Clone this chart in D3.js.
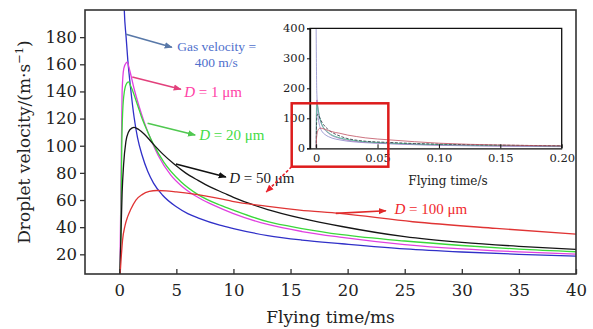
<!DOCTYPE html>
<html><head><meta charset="utf-8">
<script src="https://cdn.jsdelivr.net/npm/d3@7"></script>
<style>body{margin:0;background:#fff}</style>
</head><body>
<svg id="c" width="593" height="329"></svg>
<script>
// ---------- data (main chart, time in ms, velocity in m/s) ----------
const xTicks = [0, 5, 10, 15, 20, 25, 30, 35, 40];
const yTicks = [20, 40, 60, 80, 100, 120, 140, 160, 180];
const insetXTicks = [0, 0.05, 0.10, 0.15, 0.20];
const insetYTicks = [0, 100, 200, 300, 400];

const gasT = [0, 0.2, 0.44, 0.6, 0.75, 1.0, 1.3, 1.6, 2.0, 2.5, 3.0, 3.8, 5.0, 6.0, 7.0, 8.8, 10, 13, 16, 19.5, 25, 30, 35, 40];
const gasV = [400, 300, 200, 180, 163, 142, 121, 106, 93, 81, 72.5, 63.5, 55, 50, 46.5, 41.5, 39, 33.8, 30.5, 27.8, 24, 21.7, 20, 18.7];

const d1T = [0.05, 0.15, 0.25, 0.4, 0.6, 0.7, 0.9, 1.3, 1.7, 2.2, 2.8, 3.4, 4.5, 5.5, 6.3, 7.0, 8.3, 10, 13, 16, 19.5, 25, 30, 35, 40];
const d1V = [2, 70, 140, 157, 161, 161.5, 156, 142, 130, 117, 104, 93, 78.5, 70, 65, 61.5, 56, 50, 42, 36.8, 32.5, 27.2, 24, 21.8, 20.2];

const d20T = [0.05, 0.15, 0.22, 0.3, 0.45, 0.65, 0.8, 1.0, 1.6, 2.0, 2.5, 3.0, 3.9, 5.4, 6.9, 8.9, 10, 13, 16, 19.5, 25, 30, 35, 40];
const d20V = [2, 40, 100, 125, 140, 146, 147, 144, 130, 120, 110, 101, 88, 73.5, 64, 56, 52.5, 44, 39, 34.5, 29.8, 26.5, 23.8, 21.9];

const d50T = [0.05, 0.15, 0.25, 0.38, 0.58, 0.8, 1.1, 1.3, 1.7, 2.2, 3.0, 3.8, 4.8, 5.8, 6.9, 8.0, 9.2, 10, 13, 16, 19.5, 25, 30, 35, 40];
const d50V = [2, 35, 65, 86, 103, 110, 113, 113.5, 112, 108.5, 101, 94, 86.5, 80, 74.5, 69.5, 65, 62, 53, 46.5, 40.5, 33, 28.8, 25.9, 23.7];

const d100T = [0.05, 0.15, 0.29, 0.5, 0.73, 1.0, 1.46, 2.0, 2.63, 3.3, 4.1, 5.0, 6.4, 7.5, 8.8, 9.9, 12.85, 15.8, 19.3, 25.7, 33, 40];
const d100V = [2, 15, 30.5, 41, 47.6, 53, 60, 64, 66.3, 67, 66.8, 66, 64.5, 63, 61, 59, 55.5, 52.6, 50.1, 44, 39.1, 34.9];

// inset tails beyond 40 ms (time in s)
const tailT = [0.06, 0.08, 0.10, 0.15, 0.20];
const gasTail = [15, 12, 10, 7, 5.5];
const d1Tail = [16, 13, 11, 8, 6.5];
const d20Tail = [17.5, 14.5, 12.5, 9.5, 7.5];
const d50Tail = [19.5, 16, 14, 10.5, 8.5];
const d100Tail = [28, 22, 17, 11, 8];

const series = [
  {name: "gas", t: gasT, v: gasV, tail: gasTail, color: "#3030c8"},
  {name: "D1", t: d1T, v: d1V, tail: d1Tail, color: "#e040e0"},
  {name: "D20", t: d20T, v: d20V, tail: d20Tail, color: "#3ad83a"},
  {name: "D50", t: d50T, v: d50V, tail: d50Tail, color: "#151515"},
  {name: "D100", t: d100T, v: d100V, tail: d100Tail, color: "#e03434"}
];

// annotations: arrow start (t,v), arrow end (t,v), label anchor (t,v)
const annotations = [
  {from: [0.59, 182.1], to: [4.61, 172.5], lines: ["Gas velocity =", "400 m/s"], at: [5.08, 169.8], at2: [8.5, 158.0], color: "#4f6fcc", arrow: "#5878a8"},
  {from: [1.14, 150.6], to: [5.4, 141.6], label: "1 μm", at: [5.69, 135.9], color: "#ff3fa6", arrow: "#e2407c"},
  {from: [2.48, 116.5], to: [6.65, 107.9], label: "20 μm", at: [7.0, 104.2], color: "#44dc44", arrow: "#50c850"},
  {from: [4.96, 86.5], to: [9.34, 77.0], label: "50 μm", at: [9.63, 72.5], color: "#1a1a1a", arrow: "#111"},
  {from: [18.97, 50.2], to: [23.35, 52.1], label: "100 μm", at: [24.1, 49.7], color: "#f0282d", arrow: "#e02a2a"}
];

// ---------- drawing ----------
const svg = d3.select("#c");
const L = 85, R = 576, T = 10, B = 274;
const x = d3.scaleLinear([-3, 40], [L, R]);
const y = d3.scaleLinear([5.5, 200], [B, T]);
const serif = "'DejaVu Serif', serif";
const tserif = "'Liberation Serif', 'Times New Roman', serif";

const defs = svg.append("defs");
defs.append("clipPath").attr("id", "mainclip").append("rect")
  .attr("x", L).attr("y", T).attr("width", R - L).attr("height", B - T);

function marker(id, color, size) {
  defs.append("marker").attr("id", id).attr("viewBox", "0 0 10 10")
    .attr("refX", 9).attr("refY", 5).attr("markerUnits", "userSpaceOnUse")
    .attr("markerWidth", size).attr("markerHeight", size).attr("orient", "auto")
    .append("path").attr("d", "M0,1 L10,5 L0,9 Z").attr("fill", color);
}

const line = d3.line().x(d => x(d[0])).y(d => y(d[1])).curve(d3.curveMonotoneX);
const g = svg.append("g").attr("clip-path", "url(#mainclip)");
series.forEach(s => {
  g.append("path").datum(s.t.map((t, i) => [t, s.v[i]]))
    .attr("d", line).attr("fill", "none").attr("stroke", s.color).attr("stroke-width", 1.3);
});

// frame
svg.append("rect").attr("x", L).attr("y", T).attr("width", R - L).attr("height", B - T)
  .attr("fill", "none").attr("stroke", "#333").attr("stroke-width", 1.6);

// axes
const ya = svg.append("g").attr("transform", `translate(${L},0)`)
  .call(d3.axisLeft(y).tickValues(yTicks).tickSize(5).tickPadding(3).tickFormat(d3.format("d")));
ya.select(".domain").remove();
ya.selectAll("line").attr("stroke", "#333").attr("stroke-width", 1.3);
ya.selectAll("text").attr("font-family", serif).attr("font-size", 16.5).attr("fill", "#222");

const xa = svg.append("g").attr("transform", `translate(0,${B})`)
  .call(d3.axisBottom(x).tickValues(xTicks).tickSizeInner(-5).tickSizeOuter(0).tickPadding(10).tickFormat(d3.format("d")));
xa.select(".domain").remove();
xa.selectAll("line").attr("stroke", "#333").attr("stroke-width", 1.3);
xa.selectAll("text").attr("font-family", serif).attr("font-size", 16.5).attr("fill", "#222");

svg.append("text").attr("x", (L + R) / 2).attr("y", 323).attr("text-anchor", "middle")
  .attr("font-family", serif).attr("font-size", 17).attr("fill", "#222").text("Flying time/ms");

const yt = svg.append("text").attr("transform", `translate(30,${(T + B) / 2}) rotate(-90)`)
  .attr("text-anchor", "middle").attr("font-family", serif).attr("font-size", 17).attr("fill", "#222");
yt.append("tspan").text("Droplet velocity/(m·s");
yt.append("tspan").attr("dy", -7).attr("font-size", 11.5).text("−1");
yt.append("tspan").attr("dy", 7).text(")");

// annotations
annotations.forEach((a, i) => {
  marker("arr" + i, a.arrow, 8);
  svg.append("line").attr("x1", x(a.from[0])).attr("y1", y(a.from[1]))
    .attr("x2", x(a.to[0])).attr("y2", y(a.to[1]))
    .attr("stroke", a.arrow).attr("stroke-width", 1.6).attr("marker-end", `url(#arr${i})`);
  if (a.lines) {
    svg.append("text").attr("x", x(a.at[0])).attr("y", y(a.at[1]))
      .attr("font-family", tserif).attr("font-size", 13.5).attr("fill", a.color).text(a.lines[0]);
    svg.append("text").attr("x", x(a.at2[0])).attr("y", y(a.at2[1])).attr("text-anchor", "middle")
      .attr("font-family", tserif).attr("font-size", 13.5).attr("fill", a.color).text(a.lines[1]);
  } else {
    const t = svg.append("text").attr("x", x(a.at[0])).attr("y", y(a.at[1]))
      .attr("font-family", tserif).attr("font-size", 15).attr("fill", a.color);
    t.append("tspan").attr("font-style", "italic").text("D");
    t.append("tspan").text(" = " + a.label);
  }
});

// ---------- inset ----------
const iL = 310, iR = 561.7, iT = 28.3, iB = 148.3;
const xi = d3.scaleLinear([-0.005, 0.2], [iL, iR]);
const yi = d3.scaleLinear([0, 400], [iB, iT]);
defs.append("clipPath").attr("id", "insetclip").append("rect")
  .attr("x", iL).attr("y", iT).attr("width", iR - iL).attr("height", iB - iT);

const ig = svg.append("g").attr("clip-path", "url(#insetclip)");
const iline = d3.line().x(d => xi(d[0])).y(d => yi(d[1])).curve(d3.curveMonotoneX);
const insetColors = ["#8a88c8", "#b070c0", "#40c090", "#303040", "#c05060"];
series.forEach((s, k) => {
  const pts = s.t.map((t, i) => [t / 1000, s.v[i]]).concat(tailT.map((t, i) => [t, s.tail[i]]));
  ig.append("path").datum(pts).attr("d", iline).attr("fill", "none")
    .attr("stroke", insetColors[k]).attr("stroke-width", 1).attr("opacity", 0.8)
    .attr("stroke-dasharray", k === 3 ? "3,1.5" : null);
});

svg.append("path")
  .attr("d", `M${iL},${iB} L${iL},${iT} L${iR},${iT} L${iR},${iB}`)
  .attr("fill", "none").attr("stroke", "#111").attr("stroke-width", 1.3);

const iya = svg.append("g").attr("transform", `translate(${iL},0)`)
  .call(d3.axisLeft(yi).tickValues(insetYTicks).tickSize(3).tickPadding(2).tickFormat(d3.format("d")));
iya.select(".domain").attr("stroke", "#111").attr("stroke-width", 1.3);
iya.selectAll("line").attr("stroke", "#111");
iya.selectAll("text").attr("font-family", serif).attr("font-size", 11.5).attr("fill", "#222");

const ixa = svg.append("g").attr("transform", `translate(0,${iB})`)
  .call(d3.axisBottom(xi).tickValues(insetXTicks).tickSizeInner(-4).tickSizeOuter(0).tickPadding(6)
    .tickFormat(d => d === 0 ? "0" : d3.format(".2f")(d)));
ixa.select(".domain").attr("stroke", "#111").attr("stroke-width", 1.3);
ixa.selectAll("line").attr("stroke", "#111");
ixa.selectAll("text").attr("font-family", serif).attr("font-size", 11.5).attr("fill", "#222");

svg.append("text").attr("x", 448).attr("y", 185).attr("text-anchor", "middle")
  .attr("font-family", serif).attr("font-size", 12).attr("fill", "#222").text("Flying time/s");

// zoom box on inset (data coords of inset)
const box = {t0: -0.0199, t1: 0.0588, v0: -61.3, v1: 150};
svg.append("rect").attr("x", xi(box.t0)).attr("y", yi(box.v1))
  .attr("width", xi(box.t1) - xi(box.t0)).attr("height", yi(box.v0) - yi(box.v1))
  .attr("fill", "none").attr("stroke", "#dd1c1c").attr("stroke-width", 2.5);

marker("arrRed", "#e8202a", 8);
svg.append("line").attr("x1", xi(box.t0)).attr("y1", yi(box.v0))
  .attr("x2", x(12.87)).attr("y2", y(65.9))
  .attr("stroke", "#e8202a").attr("stroke-width", 1.6).attr("stroke-dasharray", "3,2")
  .attr("marker-end", "url(#arrRed)");
</script>
</body></html>
